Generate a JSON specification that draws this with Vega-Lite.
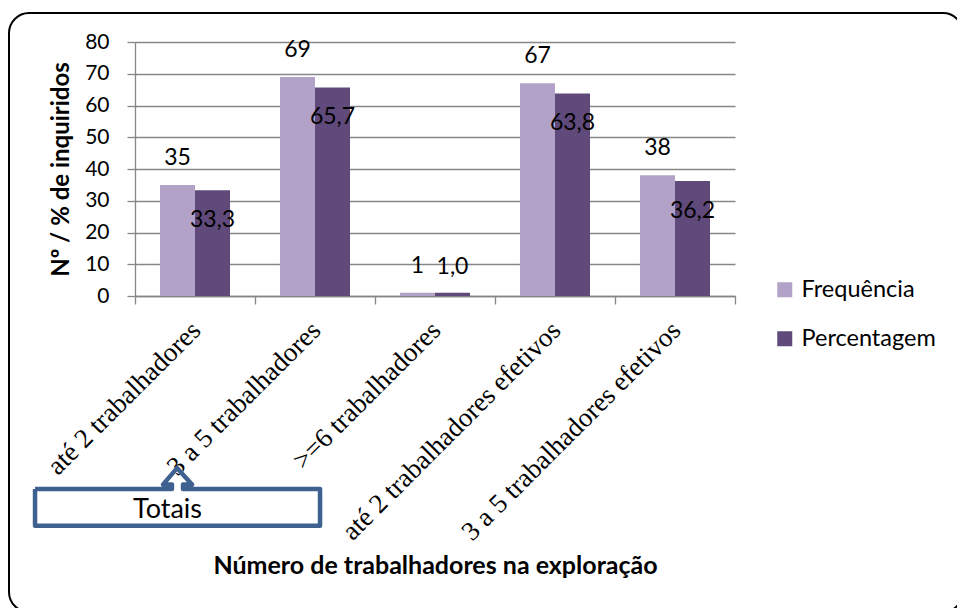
{
  "$schema": "https://vega.github.io/schema/vega-lite/v6.json",
  "width": 600,
  "height": 254,
  "autosize": {"type": "none"},
  "padding": {"left": 135, "top": 42, "right": 222, "bottom": 312},
  "background": "white",
  "config": {"view": {"stroke": null}, "font": "Lato"},
  "datasets": {
    "barras": [
      {"cat": "até 2 trabalhadores", "serie": "Frequência", "valor": 35, "rotulo": "35"},
      {"cat": "até 2 trabalhadores", "serie": "Percentagem", "valor": 33.3, "rotulo": "33,3"},
      {"cat": "3 a 5 trabalhadores", "serie": "Frequência", "valor": 69, "rotulo": "69"},
      {"cat": "3 a 5 trabalhadores", "serie": "Percentagem", "valor": 65.7, "rotulo": "65,7"},
      {"cat": ">=6 trabalhadores", "serie": "Frequência", "valor": 1, "rotulo": "1"},
      {"cat": ">=6 trabalhadores", "serie": "Percentagem", "valor": 1.0, "rotulo": "1,0"},
      {"cat": "até 2 trabalhadores efetivos", "serie": "Frequência", "valor": 67, "rotulo": "67"},
      {"cat": "até 2 trabalhadores efetivos", "serie": "Percentagem", "valor": 63.8, "rotulo": "63,8"},
      {"cat": "3 a 5 trabalhadores efetivos", "serie": "Frequência", "valor": 38, "rotulo": "38"},
      {"cat": "3 a 5 trabalhadores efetivos", "serie": "Percentagem", "valor": 36.2, "rotulo": "36,2"}
    ],
    "moldura": [{"x0": -1.05, "x1": 6.9, "y0": 89.1, "y1": -99.5}],
    "caixa": [
      {"i": 1, "px": -0.833, "py": -60.8},
      {"i": 2, "px": 0.308, "py": -60.8},
      {"i": 3, "px": 0.308, "py": -59.4},
      {"i": 4, "px": 0.233, "py": -59.4},
      {"i": 5, "px": 0.35, "py": -54.2},
      {"i": 6, "px": 0.475, "py": -59.4},
      {"i": 7, "px": 0.4, "py": -59.4},
      {"i": 8, "px": 0.4, "py": -60.8},
      {"i": 9, "px": 1.542, "py": -60.8},
      {"i": 10, "px": 1.542, "py": -72.4},
      {"i": 11, "px": -0.833, "py": -72.4},
      {"i": 12, "px": -0.833, "py": -60.8}
    ],
    "nota": [{"px": 0.271, "py": -67.4, "texto": "Totais"}]
  },
  "layer": [
    {
      "layer": [
        {
          "data": {"name": "moldura"},
          "mark": {"type": "rect", "filled": false, "stroke": "black", "strokeWidth": 2, "cornerRadius": 20},
          "encoding": {
            "x": {"field": "x0", "type": "quantitative", "scale": {"domain": [0, 5], "zero": false, "nice": false}, "axis": null},
            "x2": {"field": "x1"},
            "y": {"field": "y0", "type": "quantitative", "scale": {"domain": [0, 80], "zero": false, "nice": false}, "axis": null},
            "y2": {"field": "y1"}
          }
        },
        {
          "data": {"name": "caixa"},
          "mark": {"type": "line", "stroke": "#3E6190", "strokeWidth": 4.5, "strokeJoin": "round"},
          "encoding": {
            "x": {"field": "px", "type": "quantitative", "scale": {"domain": [0, 5], "zero": false, "nice": false}, "axis": null},
            "y": {"field": "py", "type": "quantitative", "scale": {"domain": [0, 80], "zero": false, "nice": false}, "axis": null},
            "order": {"field": "i", "type": "quantitative"}
          }
        },
        {
          "data": {"name": "nota"},
          "mark": {"type": "text", "font": "Lato", "fontSize": 27, "color": "black", "align": "center", "baseline": "middle"},
          "encoding": {
            "x": {"field": "px", "type": "quantitative", "scale": {"domain": [0, 5], "zero": false, "nice": false}, "axis": null},
            "y": {"field": "py", "type": "quantitative", "scale": {"domain": [0, 80], "zero": false, "nice": false}, "axis": null},
            "text": {"field": "texto"}
          }
        }
      ]
    },
    {
      "data": {"name": "barras"},
      "encoding": {
        "x": {
          "field": "cat", "type": "nominal",
          "scale": {"domain": ["até 2 trabalhadores", "3 a 5 trabalhadores", ">=6 trabalhadores", "até 2 trabalhadores efetivos", "3 a 5 trabalhadores efetivos"], "paddingInner": 0, "paddingOuter": 0},
          "axis": {
            "title": "Número de trabalhadores na exploração",
            "labelAngle": -45, "labelAlign": "right", "labelBaseline": "middle",
            "labelFont": "Liberation Serif", "labelFontSize": 27, "labelColor": "black",
            "labelPadding": 22, "labelOffset": 1, "labelLimit": 500, "labelOverlap": false,
            "tickSize": 8, "tickBand": "extent", "tickColor": "#868686", "tickWidth": 1.3,
            "domainColor": "#868686", "domainWidth": 1.3, "grid": false,
            "titleFont": "Lato", "titleFontWeight": "bold", "titleFontSize": 25, "titleColor": "black",
            "titleY": 269, "titleBaseline": "middle"
          }
        },
        "xOffset": {"field": "serie", "type": "nominal", "scale": {"domain": ["Frequência", "Percentagem"], "paddingInner": 0, "paddingOuter": 0.714}},
        "y": {
          "field": "valor", "type": "quantitative",
          "scale": {"domain": [0, 80], "nice": false},
          "axis": {
            "title": "Nº / % de inquiridos", "values": [0, 10, 20, 30, 40, 50, 60, 70, 80],
            "grid": true, "gridColor": "#868686", "gridWidth": 1.3,
            "tickSize": 8, "tickColor": "#868686", "tickWidth": 1.3,
            "domainColor": "#868686", "domainWidth": 1.3,
            "labelFont": "Lato", "labelFontSize": 21, "labelColor": "black", "labelPadding": 18,
            "titleFont": "Lato", "titleFontSize": 24, "titleFontWeight": "bold", "titleColor": "black", "titlePadding": 11
          }
        }
      },
      "layer": [
        {
          "mark": {"type": "bar"},
          "encoding": {
            "color": {
              "field": "serie", "type": "nominal",
              "scale": {"domain": ["Frequência", "Percentagem"], "range": ["#B3A2C7", "#604A7B"]},
              "legend": {
                "title": null, "orient": "none", "legendX": 638, "legendY": 236,
                "symbolType": "square", "symbolSize": 225, "symbolStrokeWidth": 0,
                "labelFont": "Lato", "labelFontSize": 23.5, "labelColor": "black",
                "rowPadding": 24, "labelOffset": 5, "padding": 0
              }
            }
          }
        },
        {
          "transform": [{"filter": "datum.serie == 'Frequência'"}],
          "mark": {"type": "text", "font": "Lato", "fontSize": 23, "color": "black", "baseline": "middle", "dy": -27},
          "encoding": {"text": {"field": "rotulo"}}
        },
        {
          "transform": [{"filter": "datum.serie == 'Percentagem' && datum.valor > 5"}],
          "mark": {"type": "text", "font": "Lato", "fontSize": 23, "color": "black", "baseline": "middle", "dy": 30},
          "encoding": {"text": {"field": "rotulo"}}
        },
        {
          "transform": [{"filter": "datum.serie == 'Percentagem' && datum.valor <= 5"}],
          "mark": {"type": "text", "font": "Lato", "fontSize": 23, "color": "black", "baseline": "middle", "dy": -26},
          "encoding": {"text": {"field": "rotulo"}}
        }
      ]
    }
  ],
  "resolve": {"scale": {"x": "independent", "y": "independent"}}
}
